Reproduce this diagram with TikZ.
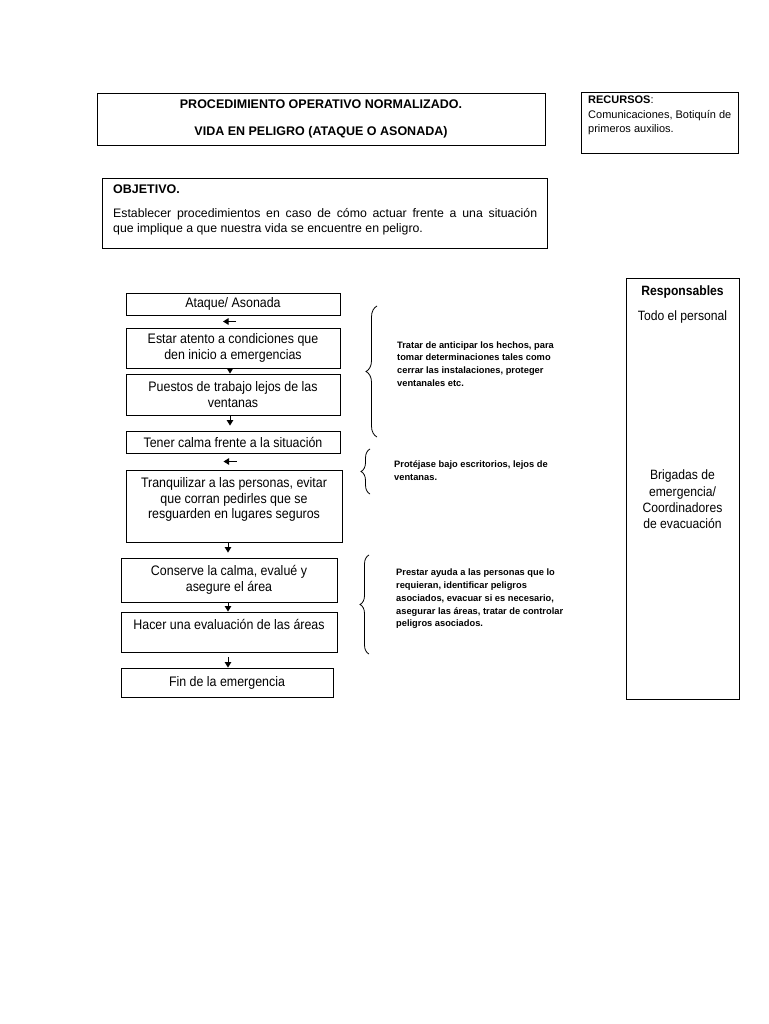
\documentclass[tikz,border=0pt]{standalone}
\usepackage{fontspec}
\setmainfont{Liberation Sans}
\newfontfamily\narrowfont{Liberation Sans}[FakeStretch=0.9]
\usetikzlibrary{arrows.meta,calc,decorations.pathreplacing}
\begin{document}
\begin{tikzpicture}[x=1pt,y=-1pt,
  box/.style={draw, line width=0.9pt, inner sep=0pt, align=center,
    font=\narrowfont\fontsize{13.8}{15.7}\selectfont},
  flow/.style={box, minimum width=214pt},
  arr/.style={line width=1pt, -{Triangle[length=5.5pt,width=6.5pt]}},
  brc/.style={decorate, line width=0.8pt},
  note/.style={anchor=west, inner sep=0pt, align=left,
    font=\fontsize{9.3}{12.8}\selectfont\bfseries},
  plain/.style={inner sep=0pt, align=center, font=\narrowfont\fontsize{13.5}{16.3}\selectfont}
]
\useasboundingbox[fill=white] (0,0) rectangle (768,1024);

% header
\node[box, minimum width=448pt, minimum height=52pt, font=\fontsize{12.5}{27}\selectfont\bfseries]
  (title) at (321,119) {PROCEDIMIENTO OPERATIVO NORMALIZADO.\\VIDA EN PELIGRO (ATAQUE O ASONADA)};

\node[box, minimum width=157pt, minimum height=61pt] (rec) at (659.5,122.5) {};
\node[anchor=west, inner sep=0pt, align=left, font=\fontsize{11}{14.5}\selectfont]
  (rectext) at (588,115.7) {\textbf{RECURSOS}:\\Comunicaciones, Botiquín de\\primeros auxilios.};

\node[box, minimum width=445pt, minimum height=70pt] (obj) at (324.5,213) {};
\node[anchor=west, inner sep=0pt, font=\fontsize{12.5}{15}\selectfont\bfseries]
  (objtitle) at (113,189) {OBJETIVO.};
\node[anchor=north west, inner sep=0pt, text width=424pt, align=justify,
  font=\fontsize{12.3}{15}\selectfont] (objtext) at (113,208.5)
  {Establecer procedimientos en caso de cómo actuar frente a una situación\linebreak que implique a que nuestra vida se encuentre en peligro.};

% flow boxes
\node[flow, minimum height=22pt] (b1) at (233,304) {Ataque/ Asonada};
\node[flow, minimum height=40pt] (b2) at (233,348) {Estar atento a condiciones que\\den inicio a emergencias};
\node[flow, minimum height=41pt] (b3) at (233,394.5) {Puestos de trabajo lejos de las\\ventanas};
\node[flow, minimum height=22pt] (b4) at (233,442) {Tener calma frente a la situación};
\node[flow, minimum width=216pt, minimum height=72pt] (b5) at (234,506)
  {Tranquilizar a las personas, evitar\\que corran pedirles que se\\resguarden en lugares seguros\\\mbox{}};
\node[flow, minimum width=216pt, minimum height=44pt] (b6) at (229,580) {Conserve la calma, evalué y\\asegure el área};
\node[flow, minimum width=216pt, minimum height=40pt] (b7) at (229,632) {Hacer una evaluación de las áreas\\\mbox{}};
\node[flow, minimum width=212pt, minimum height=29pt] (b8) at (227,682.5) {Fin de la emergencia};

% connectors
\coordinate (m12) at ($(b1.south)!0.5!(b2.north)$);
\coordinate (m45) at ($(b4.south)!0.5!(b5.north)$);
\draw[arr] ([xshift=3pt]m12) -- ([xshift=-10pt]m12);
\draw[arr] ([xshift=-3pt]b2.south) -- ([xshift=-3pt]b3.north);
\draw[arr, shorten >=5pt] ([xshift=-3pt]b3.south) -- ([xshift=-3pt]b4.north);
\draw[arr] ([xshift=3pt]m45) -- ([xshift=-10pt]m45);
\draw[arr, shorten >=5pt] ([xshift=-6pt]b5.south) -- ([xshift=-1pt]b6.north);
\draw[arr] ([xshift=-1pt]b6.south) -- ([xshift=-1pt]b7.north);
\draw[arr, shorten <=5pt] ([xshift=-1pt]b7.south) -- ([xshift=1pt]b8.north);

% braces
\coordinate (br1b) at (377,437); \coordinate (br1t) at (377,306);
\coordinate (br2b) at (370,494); \coordinate (br2t) at (370,449);
\coordinate (br3b) at (369,654); \coordinate (br3t) at (369,555);
\draw[brc, decoration={brace, amplitude=11pt}] (br1b) -- (br1t);
\draw[brc, decoration={brace, amplitude=9pt}] (br2b) -- (br2t);
\draw[brc, decoration={brace, amplitude=9pt}] (br3b) -- (br3t);

\node[note] (n1) at (397,364) {Tratar de anticipar los hechos, para\\tomar determinaciones tales como\\cerrar las instalaciones, proteger\\ventanales etc.};
\node[note] (n2) at (394,470.5) {Protéjase bajo escritorios, lejos de\\ventanas.};
\node[note] (n3) at (396,599) {Prestar ayuda a las personas que lo\\requieran, identificar peligros\\asociados, evacuar si es necesario,\\asegurar las áreas, tratar de controlar\\peligros asociados.};

% responsables
\node[box, minimum width=113pt, minimum height=421pt] (resp) at (682.5,488.5) {};
\node[plain, font=\narrowfont\fontsize{13.5}{15}\selectfont\bfseries] (resph) at (682.5,292) {Responsables};
\node[plain] (r1) at (682.5,317) {Todo el personal};
\node[plain] (r2) at (682.5,499.5) {Brigadas de\\emergencia/\\Coordinadores\\de evacuación};
\end{tikzpicture}
\end{document}
